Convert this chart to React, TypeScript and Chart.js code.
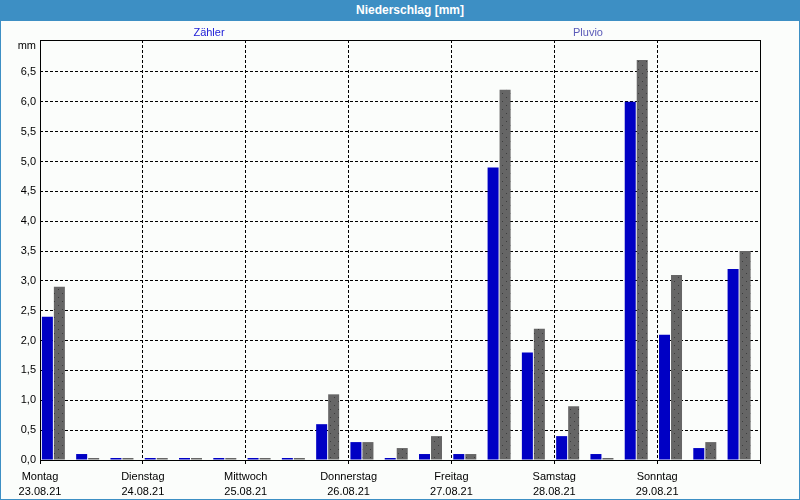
import React, { useEffect, useRef } from 'react';
import { Chart, registerables } from 'chart.js';

Chart.register(...registerables);

const dayNames = ['Montag', 'Dienstag', 'Mittwoch', 'Donnerstag', 'Freitag', 'Samstag', 'Sonntag'];
const dayDates = ['23.08.21', '24.08.21', '25.08.21', '26.08.21', '27.08.21', '28.08.21', '29.08.21'];
const seriesNames = ['Zähler', 'Pluvio'];
// one value per 8-hour period (3 per day), Monday 00:00 to Sunday 24:00
const zaehler = [2.4, 0.1, 0, 0, 0, 0, 0, 0, 0.6, 0.3, 0, 0.1, 0.1, 4.9, 1.8, 0.4, 0.1, 6.0, 2.1, 0.2, 3.2];
const pluvio = [2.9, 0, 0, 0, 0, 0, 0, 0, 1.1, 0.3, 0.2, 0.4, 0.1, 6.2, 2.2, 0.9, 0, 6.7, 3.1, 0.3, 3.5];
const yMax = 7.035;
const yStep = 0.5;
const unitLabel = 'mm';
const titleText = 'Niederschlag [mm]';

const FONT = '"Liberation Sans", Arial, sans-serif';
const FRAME = '#3d8fc4';

function makePattern(): CanvasPattern | string {
  const c = document.createElement('canvas');
  c.width = 8;
  c.height = 8;
  const g = c.getContext('2d');
  if (!g) return '#666666';
  g.fillStyle = '#666666';
  g.fillRect(0, 0, 8, 8);
  g.fillStyle = '#3c3c3c';
  g.fillRect(2, 1, 1, 1);
  g.fillRect(6, 5, 1, 1);
  const p = g.createPattern(c, 'repeat');
  return p || '#666666';
}

export default function App() {
  const ref = useRef<HTMLCanvasElement | null>(null);

  useEffect(() => {
    if (!ref.current) return;
    const slotOffset = 0.39;
    const toPoints = (arr: number[]) => arr.map((v, i) => ({ x: i + slotOffset, y: v }));

    const framePlugin = {
      id: 'frame',
      afterDraw(chart: any) {
        const { ctx, chartArea: a } = chart;
        ctx.save();
        ctx.strokeStyle = '#000';
        ctx.lineWidth = 1;
        ctx.strokeRect(Math.round(a.left) + 0.5, Math.round(a.top) + 0.5, Math.round(a.right - a.left), Math.round(a.bottom - a.top));
        ctx.fillStyle = '#000';
        ctx.font = '11px ' + FONT;
        ctx.textAlign = 'right';
        ctx.textBaseline = 'middle';
        ctx.fillText(unitLabel, a.left - 4, a.top + 6);
        ctx.restore();
      },
    };

    const chart = new Chart(ref.current, {
      type: 'bar',
      data: {
        datasets: [
          {
            label: seriesNames[0],
            data: toPoints(zaehler),
            backgroundColor: '#0000c4',
            borderWidth: 0,
            minBarLength: 2,
          },
          {
            label: seriesNames[1],
            data: toPoints(pluvio),
            backgroundColor: makePattern() as any,
            borderWidth: 0,
            minBarLength: 2,
          },
        ],
      },
      options: {
        animation: false,
        responsive: false,
        maintainAspectRatio: false,
        categoryPercentage: 0.7,
        barPercentage: 0.917,
        layout: { padding: { top: 40, right: 40, left: 0, bottom: 0 } },
        plugins: {
          legend: { display: false },
          tooltip: { enabled: false },
          title: { display: false },
        },
        scales: {
          x: {
            type: 'linear',
            min: 0,
            max: 21,
            offset: false,
            z: 1,
            afterFit: (s: any) => {
              s.height = 40;
            },
            grid: {
              offset: false,
              color: '#000',
              lineWidth: 1,
              drawTicks: true,
              tickLength: 4,
              tickBorderDash: [],
              tickColor: '#000',
            },
            border: { display: false, dash: [3, 2] },
            ticks: {
              stepSize: 3,
              autoSkip: false,
              maxRotation: 0,
              minRotation: 0,
              padding: 5,
              color: '#000',
              font: { family: FONT, size: 11, lineHeight: 1.4 },
              callback: (v: any) => {
                const d = Math.round(Number(v) / 3);
                if (d >= 0 && d < dayNames.length && Math.abs(Number(v) - d * 3) < 1e-6) return [dayNames[d], dayDates[d]];
                return '';
              },
            },
          },
          y: {
            min: 0,
            max: yMax,
            z: 1,
            afterFit: (s: any) => {
              s.width = 40;
            },
            grid: {
              color: '#000',
              lineWidth: 1,
              drawTicks: false,
            },
            border: { display: false, dash: [3, 2] },
            ticks: {
              stepSize: yStep,
              padding: 4,
              color: '#000',
              font: { family: FONT, size: 11 },
              callback: (v: any) => {
                const n = Number(v);
                if (n > 6.99) return '';
                return n.toFixed(1).replace('.', ',');
              },
            },
          },
        },
      } as any,
      plugins: [framePlugin],
    });
    return () => chart.destroy();
  }, []);

  return (
    <div style={{ position: 'absolute', left: 0, top: 0, width: 800, height: 500, background: '#fbfdfb', overflow: 'hidden' }}>
      <canvas ref={ref} width={800} height={500} style={{ position: 'absolute', left: 0, top: 0, width: 800, height: 500 }} />
      <div
        style={{
          position: 'absolute',
          left: 0,
          top: 0,
          width: 800,
          height: 21,
          background: FRAME,
        }}
      />
      <span
        style={{
          position: 'absolute',
          left: 410,
          top: 10,
          transform: 'translate(-50%, -50%)',
          color: '#fff',
          font: 'bold 12px ' + FONT,
          whiteSpace: 'nowrap',
        }}
      >
        {titleText}
      </span>
      <span style={{ position: 'absolute', left: 209, top: 32, transform: 'translate(-50%, -50%)', font: '11px ' + FONT, color: '#2020d8', whiteSpace: 'nowrap' }}>
        {seriesNames[0]}
      </span>
      <span style={{ position: 'absolute', left: 588, top: 32, transform: 'translate(-50%, -50%)', font: '11px ' + FONT, color: '#5a5ab8', whiteSpace: 'nowrap' }}>
        {seriesNames[1]}
      </span>
      <div style={{ position: 'absolute', left: 0, top: 0, width: 800, height: 500, boxSizing: 'border-box', border: '1px solid ' + FRAME, pointerEvents: 'none' }} />
    </div>
  );
}
